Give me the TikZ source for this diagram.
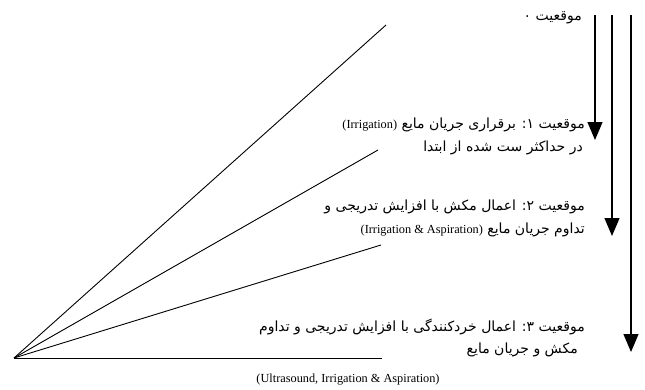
\documentclass[tikz,border=0pt]{standalone}
\usepackage{fontspec}
\setmainfont{Liberation Serif}
\newfontfamily\fa[Script=Arabic]{DejaVu Sans}
\TeXXeTstate=1
\usetikzlibrary{arrows.meta}
\newcommand{\lat}[1]{{\rmfamily\fontsize{12.3}{14}\selectfont\beginL #1\endL}}
\begin{document}
\begin{tikzpicture}[x=1pt,y=-1pt,
  fan/.style={line width=0.9pt},
  flow/.style={line width=1.2pt,-{Triangle[width=15pt,length=18pt]}},
  fatext/.style={anchor=east,inner sep=0pt,font=\fa\fontsize{14}{16}\selectfont},
  latext/.style={anchor=center,inner sep=0pt,font=\rmfamily\fontsize{12.3}{14}\selectfont}]
\useasboundingbox (0,0) rectangle (645,389);
% fan
\coordinate (O) at (14,358);
\coordinate (A) at (386,25);
\coordinate (B) at (378,150);
\coordinate (C) at (381,245);
\coordinate (D) at (382,358);
\draw[fan] (O) -- (A);
\draw[fan] (O) -- (B);
\draw[fan] (O) -- (C);
\draw[fan] (O) -- (D);
% arrows
\coordinate (a1s) at (595,15);
\coordinate (a1e) at (595,140);
\coordinate (a2s) at (612,15);
\coordinate (a2e) at (612,236);
\coordinate (a3s) at (631,15);
\coordinate (a3e) at (631,352);
\draw[flow] (a1s) -- (a1e);
\draw[flow] (a2s) -- (a2e);
\draw[flow] (a3s) -- (a3e);
% texts
\node[fatext] (t0) at (582,18) {\beginR موقعیت ۰\endR};
\node[fatext] (t1a) at (585,125) {\beginR موقعیت ۱: برقراری جریان مایع \lat{(Irrigation)}\endR};
\node[fatext] (t1b) at (583,148) {\beginR در حداکثر ست شده از ابتدا\endR};
\node[fatext] (t2a) at (585,207) {\beginR موقعیت ۲: اعمال مکش با افزایش تدریجی و\endR};
\node[fatext] (t2b) at (585,230) {\beginR تداوم جریان مایع \lat{(Irrigation \& Aspiration)}\endR};
\node[fatext] (t3a) at (585,327) {\beginR موقعیت ۳: اعمال خردکنندگی با افزایش تدریجی و تداوم\endR};
\node[fatext] (t3b) at (578,350) {\beginR مکش و جریان مایع\endR};
\node[latext] (t4) at (348,380) {(Ultrasound, Irrigation \& Aspiration)};
\end{tikzpicture}
\end{document}
